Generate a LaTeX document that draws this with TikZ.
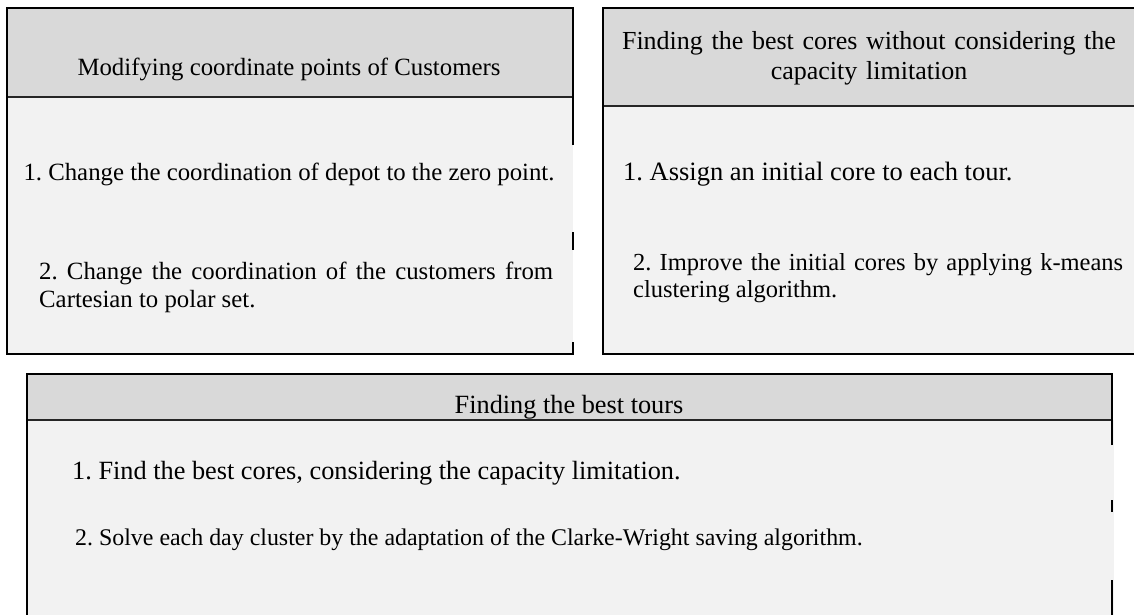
\documentclass[tikz,border=0pt]{standalone}
\usepackage{fontspec}
\setmainfont{Liberation Serif}
\frenchspacing
\begin{document}
\begin{tikzpicture}[x=1pt,y=-1pt]
\useasboundingbox (0,0) rectangle (1134,614);
\definecolor{hdr}{HTML}{D9D9D9}
\definecolor{bdy}{HTML}{F2F2F2}
\tikzset{
  border/.style={line width=2pt, draw=black},
  divider/.style={line width=1.8pt, draw=black!85},
  hdrfill/.style={fill=hdr},
  bdyfill/.style={fill=bdy},
  txtA/.style={inner sep=0pt, font=\fontsize{24.8}{28}\selectfont},
  txtBh/.style={inner sep=0pt, font=\fontsize{26}{30}\selectfont},
  txtB/.style={inner sep=0pt, font=\fontsize{26.5}{30}\selectfont},
  txtBi/.style={inner sep=0pt, font=\fontsize{24.5}{27.5}\selectfont},
  txtC/.style={inner sep=0pt, font=\fontsize{26.3}{30}\selectfont},
  txtCs/.style={inner sep=0pt, font=\fontsize{23.9}{28}\selectfont},
}
% ---------- Box 1 ----------
\fill[hdrfill] (7,8) rectangle (573,97);
\node[txtA, anchor=base] (h1) at (289,75) {Modifying coordinate points of Customers};
\fill[bdyfill] (7,97) rectangle (573,354);
\draw[divider] (7,97) -- (573,97);
\draw[border] (573,145) -- (573,8) -- (7,8) -- (7,354) -- (573,354) -- (573,342);
\draw[border] (573,232) -- (573,250);
\node[txtA, anchor=base] (a1) at (289,180) {1. Change the coordination of depot to the zero point.};
\node[txtA, anchor=base west, text width=514pt, align=justify] (a2) at (39,279)
  {2. Change the coordination of the customers from Cartesian to polar set.};
% ---------- Box 2 ----------
\fill[hdrfill] (603,8) rectangle (1140,106);
\node[txtBh, anchor=base, text width=520pt, align=center] (h2) at (869,49)
  {Finding the best cores without considering the\\capacity limitation};
\fill[bdyfill] (603,106) rectangle (1140,354);
\draw[divider] (603,106) -- (1140,106);
\draw[border] (1140,8) -- (603,8) -- (603,354) -- (1140,354);
\node[txtB, anchor=base west] (b1) at (623,180) {1. Assign an initial core to each tour.};
\node[txtBi, anchor=base west, text width=490pt, align=justify] (b2) at (633,270)
  {2. Improve the initial cores by applying k-means clustering algorithm.};
% ---------- Box 3 ----------
\fill[hdrfill] (27,374) rectangle (1112,420);
\node[txtC, anchor=base] (h3) at (569,413) {Finding the best tours};
\fill[bdyfill] (27,420) rectangle (1114,620);
\draw[divider] (27,420) -- (1112,420);
\draw[border] (1112,445) -- (1112,374) -- (27,374) -- (27,620);
\draw[border] (1112,500) -- (1112,512);
\draw[border] (1112,580) -- (1112,620);
\node[txtC, anchor=base west] (c1) at (72,479) {1. Find the best cores, considering the capacity limitation.};
\node[txtCs, anchor=base west] (c2) at (75,545) {2. Solve each day cluster by the adaptation of the Clarke-Wright saving algorithm.};
\end{tikzpicture}
\end{document}
